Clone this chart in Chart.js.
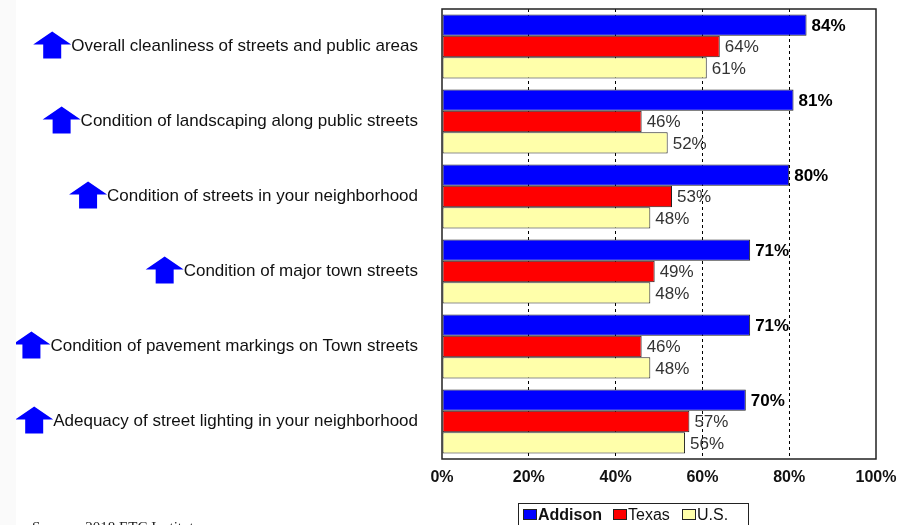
<!DOCTYPE html>
<html>
<head>
<meta charset="utf-8">
<script src="https://cdn.jsdelivr.net/npm/chart.js@4"></script>
<style>
  html, body { margin: 0; padding: 0; background: #fff; overflow: hidden; }
  #wrap { position: relative; width: 899px; height: 525px; }
  #strip { position: absolute; left: 0; top: 0; width: 16px; height: 525px; background: #fafafa; }
  #legend {
    position: absolute; left: 518px; top: 503px; width: 231px; height: 30px;
    border: 1px solid #222; box-sizing: border-box;
    font: 16px "Liberation Sans", Arial, sans-serif; color: #111;
    white-space: nowrap;
  }
  #legend span.item { position: absolute; top: 2px; }
  #legend i { display: inline-block; width: 12px; height: 9px; border: 1px solid #222; margin-right: 1px; vertical-align: 0px; }
  #source {
    position: absolute; left: 32px; top: 519px;
    font: 15px "Liberation Serif", "Times New Roman", serif; color: #222;
  }
</style>
</head>
<body>
<div id="wrap">
  <div id="strip"></div>
  <canvas id="chart" width="899" height="525"></canvas>
  <div id="legend">
    <span class="item" style="left:4px"><i style="background:#0000ff"></i><b>Addison</b></span>
    <span class="item" style="left:94px"><i style="background:#ff0000"></i>Texas</span>
    <span class="item" style="left:163px"><i style="background:#ffffaa"></i>U.S.</span>
  </div>
  <div id="source">Source:&nbsp; 2018 ETC Institute</div>
</div>
<script>
const categories = [
    "Overall cleanliness of streets and public areas",
    "Condition of landscaping along public streets",
    "Condition of streets in your neighborhood",
    "Condition of major town streets",
    "Condition of pavement markings on Town streets",
    "Adequacy of street lighting in your neighborhood"
];

const addison = [84, 81, 80, 71, 71, 70];
const texas = [64, 46, 53, 49, 46, 57];
const us = [61, 52, 48, 48, 48, 56];

const xTicks = [0, 20, 40, 60, 80, 100];

const PLOT_LEFT = 442;
const PLOT_BOTTOM = 459;
const FONT = "'Liberation Sans', Arial, sans-serif";

// value labels at the end of each bar
const valueLabels = {
    id: "valueLabels",
    afterDatasetsDraw(chart) {
        const ctx = chart.ctx;
        ctx.save();
        ctx.textBaseline = "middle";
        ctx.textAlign = "left";
        chart.data.datasets.forEach((ds, di) => {
            const meta = chart.getDatasetMeta(di);
            ctx.font = di === 0 ? "bold 17px " + FONT : "17px " + FONT;
            ctx.fillStyle = di === 0 ? "#000" : "#333";
            meta.data.forEach((bar, i) => {
                ctx.fillText(ds.data[i] + "%", bar.x + 5, bar.y + 1);
            });
        });
        ctx.restore();
    }
};

// frame round the plot and the blue up-arrows in front of each label
const frameAndArrows = {
    id: "frameAndArrows",
    afterDraw(chart) {
        const ctx = chart.ctx;
        const a = chart.chartArea;
        ctx.save();
        ctx.strokeStyle = "#222";
        ctx.lineWidth = 1.5;
        ctx.strokeRect(a.left, a.top, a.right - a.left, a.bottom - a.top);

        const yScale = chart.scales.y;
        ctx.font = "17px " + FONT;
        ctx.fillStyle = "#0000ff";
        categories.forEach((label, i) => {
            const cy = yScale.getPixelForValue(i);
            const right = a.left - 24;
            const w = ctx.measureText(label).width;
            const ax = right - w;
            ctx.beginPath();
            ctx.moveTo(ax, cy - 2);
            ctx.lineTo(ax - 19, cy - 15);
            ctx.lineTo(ax - 38, cy - 2);
            ctx.lineTo(ax - 28, cy - 2);
            ctx.lineTo(ax - 28, cy + 12);
            ctx.lineTo(ax - 10, cy + 12);
            ctx.lineTo(ax - 10, cy - 2);
            ctx.closePath();
            ctx.fill();
        });
        ctx.restore();
    }
};

const barStyle = {
    borderColor: "#222",
    borderWidth: 1,
    borderSkipped: false,
    categoryPercentage: 0.853,
    barPercentage: 1.0
};

new Chart(document.getElementById("chart"), {
    type: "bar",
    data: {
        labels: categories,
        datasets: [
            { label: "Addison", data: addison, backgroundColor: "#0000ff", ...barStyle },
            { label: "Texas", data: texas, backgroundColor: "#ff0000", ...barStyle },
            { label: "U.S.", data: us, backgroundColor: "#ffffaa", ...barStyle }
        ]
    },
    options: {
        indexAxis: "y",
        responsive: false,
        animation: false,
        layout: { padding: { left: 0, top: 9, right: 23, bottom: 0 } },
        plugins: {
            legend: { display: false },
            tooltip: { enabled: false }
        },
        scales: {
            x: {
                min: 0,
                max: 100,
                afterBuildTicks(scale) {
                    scale.ticks = xTicks.map(v => ({ value: v }));
                },
                afterFit(scale) {
                    scale.height = 525 - PLOT_BOTTOM;
                    scale.paddingLeft = 0;
                    scale.paddingRight = 0;
                },
                grid: {
                    color: ctx => (ctx.tick && (ctx.tick.value === 0 || ctx.tick.value === 100)) ? "rgba(0,0,0,0)" : "#000",
                    lineWidth: 1,
                    drawTicks: false
                },
                border: { display: false, dash: [3, 3] },
                ticks: {
                    padding: 9,
                    color: "#111",
                    font: { family: FONT, size: 16, weight: "bold" },
                    callback: v => v + "%"
                }
            },
            y: {
                afterFit(scale) {
                    scale.width = PLOT_LEFT;
                    scale.paddingTop = 0;
                    scale.paddingBottom = 0;
                },
                grid: { display: false, drawTicks: false },
                border: { display: false },
                ticks: {
                    padding: 24,
                    color: "#111",
                    font: { family: FONT, size: 17 }
                }
            }
        }
    },
    plugins: [valueLabels, frameAndArrows]
});
</script>
</body>
</html>
